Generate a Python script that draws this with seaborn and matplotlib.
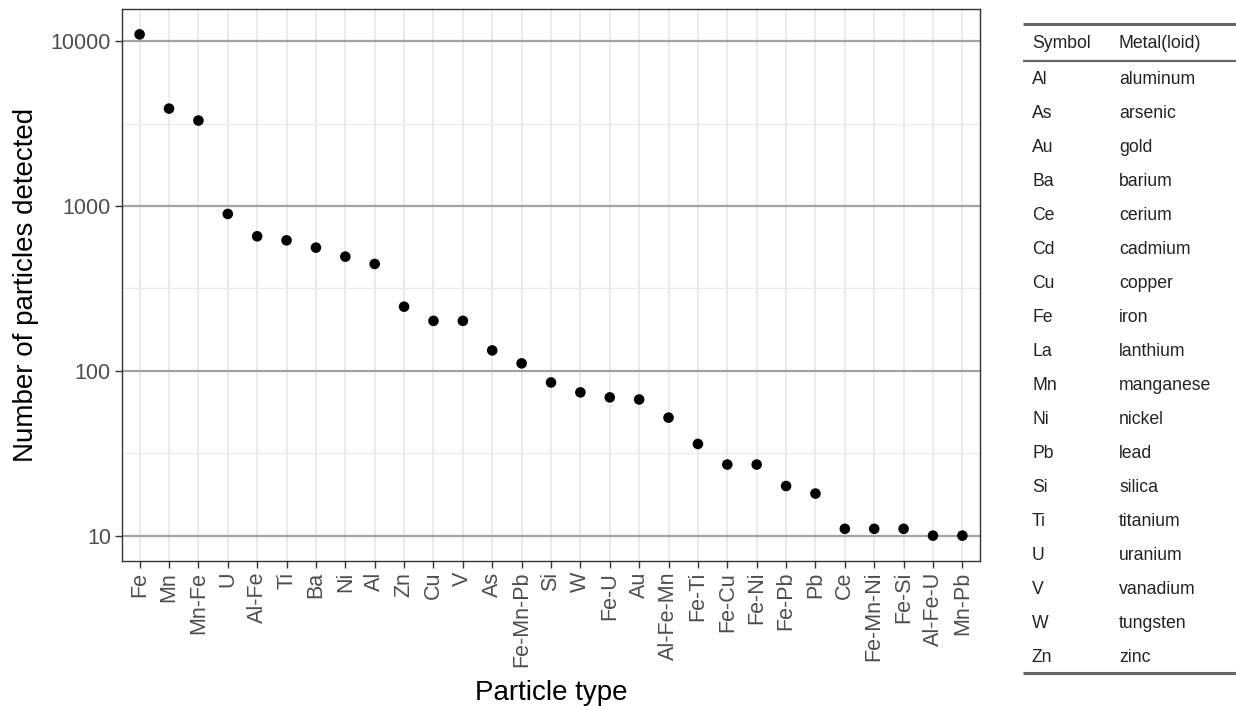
import numpy as np
import pandas as pd
import matplotlib
matplotlib.use("Agg")
import matplotlib.pyplot as plt
import seaborn as sns
from matplotlib.ticker import FixedLocator, NullFormatter

# particle counts (log scale)
particle_types = ["Fe", "Mn", "Mn-Fe", "U", "Al-Fe", "Ti", "Ba", "Ni", "Al", "Zn",
                  "Cu", "V", "As", "Fe-Mn-Pb", "Si", "W", "Fe-U", "Au", "Al-Fe-Mn",
                  "Fe-Ti", "Fe-Cu", "Fe-Ni", "Fe-Pb", "Pb", "Ce", "Fe-Mn-Ni",
                  "Fe-Si", "Al-Fe-U", "Mn-Pb"]
counts = [11000, 3900, 3300, 895, 655, 619, 559, 493, 445, 245,
          201, 201, 133, 111, 85, 74, 69, 67, 52,
          36, 27, 27, 20, 18, 11, 11,
          11, 10, 10]

# legend table
symbols = ["Al", "As", "Au", "Ba", "Ce", "Cd", "Cu", "Fe", "La", "Mn",
           "Ni", "Pb", "Si", "Ti", "U", "V", "W", "Zn"]
metals = ["aluminum", "arsenic", "gold", "barium", "cerium", "cadmium", "copper",
          "iron", "lanthium", "manganese", "nickel", "lead", "silica", "titanium",
          "uranium", "vanadium", "tungsten", "zinc"]

y_breaks = [10, 100, 1000, 10000]

df = pd.DataFrame({"type": particle_types, "n": counts})

sns.set_theme(style="white")
plt.rcParams["font.family"] = ["Liberation Sans", "DejaVu Sans"]

W, H = 1236, 706
fig = plt.figure(figsize=(W / 100, H / 100), dpi=100)
left, right, top, bottom = 122, 980, 9.3, 560.7
ax = fig.add_axes([left / W, 1 - bottom / H, (right - left) / W, (bottom - top) / H])

sns.scatterplot(data=df, x="type", y="n", ax=ax, color="black", s=58,
                edgecolor="none", zorder=5)

ax.set_yscale("log")
# ggplot-like 5% expansion in log space
lo, hi = np.log10(min(counts)), np.log10(max(counts))
pad = 0.05 * (hi - lo)
ax.set_ylim(10 ** (lo - pad), 10 ** (hi + pad))
ax.set_xlim(-0.6, len(particle_types) - 0.4)

ax.yaxis.set_major_locator(FixedLocator(y_breaks))
ax.set_yticklabels([str(b) for b in y_breaks])
ax.yaxis.set_minor_locator(FixedLocator([b * np.sqrt(10) for b in y_breaks]))
ax.yaxis.set_minor_formatter(NullFormatter())

ax.grid(False)
for xi in range(len(particle_types)):
    ax.axvline(xi, color="#EBEBEB", lw=1.4, zorder=0)
for b in y_breaks:
    ax.axhline(b * np.sqrt(10), color="#EBEBEB", lw=1.0, zorder=0)
    ax.axhline(b, color="#A3A3A3", lw=1.6, zorder=1)

for sp in ax.spines.values():
    sp.set_color("#333333")
    sp.set_linewidth(1.0)
    sp.set_visible(True)

ax.tick_params(axis="both", which="major", length=5, width=1.0, color="#333333",
               labelcolor="#4D4D4D", labelsize=15.5, pad=3, left=True, bottom=True)
ax.tick_params(axis="y", which="minor", length=0)
plt.setp(ax.get_xticklabels(), rotation=90, ha="center", va="top")

ax.set_xlabel("Particle type", fontsize=20, color="black")
ax.set_ylabel("Number of particles detected", fontsize=20, color="black")
ax.xaxis.label.set_va("baseline")
ax.xaxis.set_label_coords(0.5, -(700 - bottom) / (bottom - top))
ax.yaxis.label.set_va("baseline")
ax.yaxis.label.set_rotation_mode("anchor")
ax.yaxis.set_label_coords(-(122 - 33) / (right - left), 0.5)

# table on the right
tab = fig.add_axes([1023 / W, 0, (W - 1023) / W, 1])
tab.set_xlim(1023, W)
tab.set_ylim(H, 0)
tab.axis("off")
rule = "#666666"
tab.plot([1023, W], [24, 24], color=rule, lw=2.2, solid_capstyle="butt")
tab.plot([1023, W], [61, 61], color=rule, lw=1.6, solid_capstyle="butt")
tab.plot([1023, W], [673, 673], color=rule, lw=2.2, solid_capstyle="butt")
txt = dict(fontsize=12.7, color="#222222", va="center", ha="left")
tab.text(1032, 43, "Symbol", **txt)
tab.text(1119, 43, "Metal(loid)", **txt)
for i, (sym, name) in enumerate(zip(symbols, metals)):
    yy = 79 + 34 * i
    tab.text(1032, yy, sym, **txt)
    tab.text(1119, yy, name, **txt)

fig.savefig("out.png", dpi=100)
